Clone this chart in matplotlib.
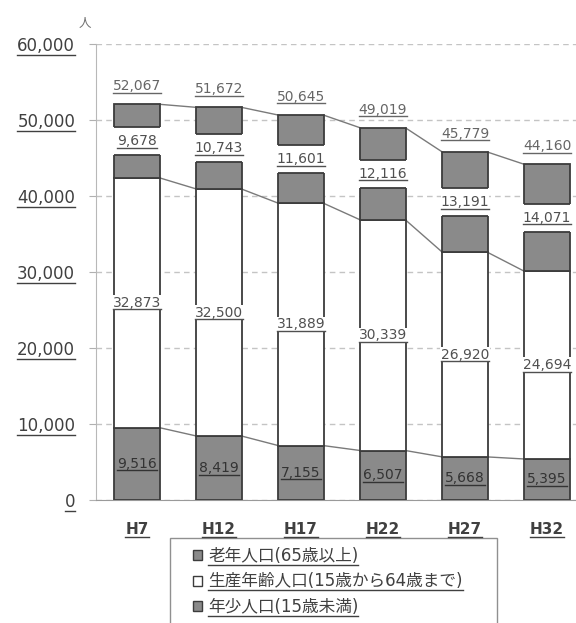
import numpy as np
import matplotlib
matplotlib.use("Agg")
import matplotlib.pyplot as plt
from matplotlib.patches import Patch, Rectangle
from matplotlib.lines import Line2D
from matplotlib.transforms import IdentityTransform

plt.rcParams['font.family'] = ['DejaVu Sans', 'Noto Sans CJK JP']

years = ['H7', 'H12', 'H17', 'H22', 'H27', 'H32']
young = [9516, 8419, 7155, 6507, 5668, 5395]
working = [32873, 32500, 31889, 30339, 26920, 24694]
old = [9678, 10743, 11601, 12116, 13191, 14071]
total = [52067, 51672, 50645, 49019, 45779, 44160]

names = ['老年人口(65歳以上)', '生産年齢人口(15歳から64歳まで)', '年少人口(15歳未満)']

gray = '#8a8a8a'
edge = '#3c3c3c'
txt = '#505050'

fig = plt.figure(figsize=(5.76, 6.23), dpi=100)
# axes runs a bit past the right edge, like the original
ax = fig.add_axes([96/576, 1-500/623, 492/576, 456/623])

x = np.arange(len(years))
w = 0.55
young = np.array(young)
working = np.array(working)
old = np.array(old)
b1 = young
b2 = young + working
mid_old = b2 + old/2

ax.bar(x, young, w, color=gray, edgecolor=edge, lw=1.3, zorder=3)
ax.bar(x, working, w, bottom=b1, color='white', edgecolor=edge, lw=1.3, zorder=3)
ax.bar(x, old, w, bottom=b2, color=gray, edgecolor=edge, lw=1.3, zorder=3)

# the old-age label sits in a white gap that splits the top segment in two
gap = 3650
ax.bar(x, gap, w + 0.03, bottom=mid_old - gap/2, color='white', edgecolor='none', zorder=4)
ax.hlines(mid_old - gap/2, x - w/2, x + w/2, color=edge, lw=1.3, zorder=4)
ax.hlines(mid_old + gap/2, x - w/2, x + w/2, color=edge, lw=1.3, zorder=4)

# connecting lines between bars
for lvl in [b1, b2, b2 + old]:
    for i in range(len(x) - 1):
        ax.plot([x[i] + w/2, x[i+1] - w/2], [lvl[i], lvl[i+1]],
                color='#7a7a7a', lw=1.0, zorder=2)

labels = []
for i in range(len(x)):
    labels.append(ax.text(x[i], young[i]/2, f'{young[i]:,}', ha='center', va='center',
                          fontsize=10, color='#333333', zorder=5))
    labels.append(ax.text(x[i], b1[i] + working[i]/2, f'{working[i]:,}', ha='center',
                          va='center', fontsize=10, color=txt, zorder=5,
                          bbox=dict(facecolor='white', edgecolor='none', pad=0.5)))
    labels.append(ax.text(x[i], mid_old[i], f'{old[i]:,}', ha='center', va='center',
                          fontsize=10, color=txt, zorder=5))
    labels.append(ax.annotate(f'{total[i]:,}', (x[i], b2[i] + old[i]), xytext=(0, 8),
                              textcoords='offset points', ha='center', va='bottom',
                              fontsize=10, color='#666666', zorder=5))

ax.set_xlim(-0.5, 5.5)
ax.set_ylim(0, 60000)
ax.set_yticks(np.arange(0, 60001, 10000))
ax.set_yticklabels([f'{v:,}' for v in range(0, 60001, 10000)])
ax.set_xticks(x)
ax.set_xticklabels(years, fontweight='bold')
ax.tick_params(axis='y', length=5, color='#b0b0b0', pad=10, labelsize=12, labelcolor='#404040')
ax.tick_params(axis='x', length=0, pad=16, labelsize=11, labelcolor='#404040')
ax.grid(axis='y', color='#c4c4c4', ls=(0, (4, 3)), lw=1, zorder=0)
for s in ['top', 'right']:
    ax.spines[s].set_visible(False)
ax.spines['left'].set_color('#b8b8b8')
ax.spines['bottom'].set_color('#9a9a9a')

fig.text(85/576, 1-24/623, '人', fontsize=9, color='#707070', ha='center', va='center')

# legend: frame drawn separately so it can run off the bottom edge
fig.add_artist(Rectangle((170/576, -0.05), 327/576, 0.05 + (623-538)/623,
                         transform=fig.transFigure, facecolor='white',
                         edgecolor='#909090', lw=1.0))
handles = [Patch(facecolor=gray, edgecolor=edge),
           Patch(facecolor='white', edgecolor=edge),
           Patch(facecolor=gray, edgecolor=edge)]
leg = fig.legend(handles, names, loc='upper left', bbox_to_anchor=(193/576, 1-547/623),
                 frameon=False, fontsize=12,
                 handlelength=0.55, handleheight=0.55, handletextpad=0.35,
                 labelspacing=0.45, borderpad=0, borderaxespad=0)
for t in leg.get_texts():
    t.set_color('#404040')

# every text in the original is underlined
fig.canvas.draw()
r = fig.canvas.get_renderer()
texts = labels + ax.get_yticklabels() + ax.get_xticklabels() + leg.get_texts()
for t in texts:
    bb = t.get_window_extent(renderer=r)
    yy = bb.y0 + 0.5
    fig.add_artist(Line2D([bb.x0, bb.x1], [yy, yy], transform=IdentityTransform(),
                          color=t.get_color(), lw=1.0, zorder=6))

fig.savefig('out.png', dpi=100)
